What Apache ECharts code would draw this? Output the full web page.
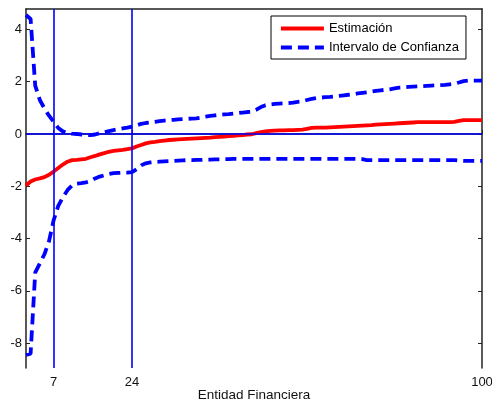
<!DOCTYPE html>
<html>
<head>
<meta charset="utf-8">
<script src="https://cdn.jsdelivr.net/npm/echarts@6/dist/echarts.min.js"></script>
<style>
  html, body { margin: 0; padding: 0; background: #fff; }
  #chart { width: 492px; height: 407px; }
</style>
</head>
<body>
<div id="chart"></div>
<script>
// estimación por entidad financiera (1..100)
const estimacion = [
  -1.97, -1.82, -1.74, -1.7, -1.65, -1.56, -1.44, -1.3, -1.17, -1.06,
  -1.0, -0.99, -0.97, -0.95, -0.89, -0.84, -0.78, -0.73, -0.68, -0.65,
  -0.63, -0.61, -0.58, -0.55, -0.48, -0.42, -0.36, -0.32, -0.3, -0.27,
  -0.25, -0.23, -0.22, -0.21, -0.2, -0.19, -0.18, -0.17, -0.16, -0.15,
  -0.14, -0.12, -0.11, -0.1, -0.08, -0.07, -0.05, -0.04, -0.02, -0.01,
  0.03, 0.07, 0.1, 0.12, 0.13, 0.14, 0.14, 0.15, 0.15, 0.16,
  0.17, 0.2, 0.23, 0.24, 0.24, 0.24, 0.25, 0.26, 0.27, 0.28,
  0.29, 0.3, 0.31, 0.32, 0.33, 0.34, 0.36, 0.37, 0.38, 0.39,
  0.4, 0.41, 0.42, 0.43, 0.44, 0.45, 0.45, 0.45, 0.45, 0.45,
  0.45, 0.45, 0.45, 0.46, 0.5, 0.53, 0.53, 0.53, 0.53, 0.53
];
const limiteSuperior = [
  4.55, 4.4, 1.85, 1.3, 0.98, 0.7, 0.47, 0.23, 0.1, 0.04,
  0.01, 0.0, -0.02, -0.04, -0.04, -0.02, 0.03, 0.07, 0.11, 0.15,
  0.18, 0.21, 0.24, 0.28, 0.33, 0.39, 0.42, 0.44, 0.46, 0.49,
  0.51, 0.53, 0.54, 0.56, 0.57, 0.58, 0.59, 0.6, 0.63, 0.66,
  0.69, 0.71, 0.73, 0.75, 0.76, 0.78, 0.8, 0.82, 0.84, 0.85,
  0.93, 1.03, 1.1, 1.13, 1.15, 1.16, 1.17, 1.18, 1.2, 1.23,
  1.25, 1.3, 1.34, 1.37, 1.39, 1.41, 1.42, 1.44, 1.46, 1.48,
  1.5, 1.52, 1.55, 1.57, 1.59, 1.62, 1.65, 1.67, 1.69, 1.71,
  1.74, 1.77, 1.78, 1.8, 1.81, 1.82, 1.83, 1.84, 1.85, 1.86,
  1.87, 1.88, 1.9, 1.92, 1.97, 2.02, 2.04, 2.04, 2.04, 2.04
];
const limiteInferior = [
  -8.45, -8.4, -5.3, -4.95, -4.6, -4.1, -3.3, -2.75, -2.42, -2.15,
  -1.97, -1.9, -1.88, -1.85, -1.8, -1.7, -1.63, -1.58, -1.53, -1.5,
  -1.49, -1.48, -1.48, -1.46, -1.35, -1.2, -1.12, -1.09, -1.07, -1.06,
  -1.05, -1.04, -1.03, -1.02, -1.01, -1.0, -1.0, -0.99, -0.99, -0.98,
  -0.98, -0.97, -0.97, -0.96, -0.96, -0.95, -0.95, -0.95, -0.95, -0.95,
  -0.95, -0.95, -0.95, -0.95, -0.95, -0.95, -0.95, -0.95, -0.95, -0.95,
  -0.95, -0.95, -0.95, -0.95, -0.95, -0.95, -0.95, -0.95, -0.95, -0.95,
  -0.95, -0.95, -0.95, -0.96, -1.0, -1.0, -1.0, -1.0, -1.0, -1.0,
  -1.0, -1.0, -1.0, -1.0, -1.0, -1.0, -1.0, -1.0, -1.0, -1.0,
  -1.0, -1.0, -1.0, -1.0, -1.02, -1.03, -1.03, -1.03, -1.03, -1.03
];
const xTicks = [7, 24, 100];
const yTicks = [-8, -6, -4, -2, 0, 2, 4];
const lineasVerticales = [7, 24];
const lineasHorizontales = [0];

const entidad = estimacion.map((_, i) => i + 1);
const pares = (vals) => vals.map((v, i) => [entidad[i], v]);

const font = 'Liberation Sans, Arial, sans-serif';
const chart = echarts.init(document.getElementById('chart'));

const option = {
  animation: false,
  backgroundColor: '#fff',
  textStyle: { fontFamily: font },
  grid: { left: 26, right: 10, top: 9, bottom: 39, containLabel: false, outerBoundsMode: 'none' },
  legend: {
    orient: 'vertical',
    left: 271,
    top: 16,
    data: ['Estimación', 'Intervalo de Confianza'],
    borderColor: '#000',
    borderWidth: 1,
    padding: [6, 7, 5, 8],
    itemGap: 6,
    itemWidth: 43,
    itemHeight: 14,
    itemStyle: { opacity: 0 },
    lineStyle: { width: 3.8 },
    textStyle: { fontSize: 13, color: '#000', fontFamily: font }
  },
  xAxis: [
    {
      type: 'value',
      min: 1,
      max: 100,
      name: 'Entidad Financiera',
      nameLocation: 'middle',
      nameGap: 20,
      nameMoveOverlap: false,
      nameTextStyle: { fontSize: 13.5, color: '#111' },
      axisLine: { lineStyle: { color: '#222', width: 1.5 } },
      axisTick: { inside: true, length: 4, customValues: xTicks, lineStyle: { color: '#222' } },
      axisLabel: { customValues: xTicks, fontSize: 13, color: '#111', margin: 8 },
      splitLine: { show: false }
    },
    {
      type: 'value',
      position: 'top',
      min: 1,
      max: 100,
      axisLine: { show: true, onZero: false, lineStyle: { color: '#222', width: 1.5 } },
      axisTick: { show: false },
      axisLabel: { show: false },
      splitLine: { show: false }
    }
  ],
  yAxis: [
    {
      type: 'value',
      min: -8.95,
      max: 4.78,
      axisLine: { show: true, onZero: false, lineStyle: { color: '#222', width: 1.5 } },
      axisTick: { inside: true, length: 4, customValues: yTicks, lineStyle: { color: '#222' } },
      axisLabel: { customValues: yTicks, fontSize: 13, color: '#111', margin: 4 },
      splitLine: { show: false }
    },
    {
      type: 'value',
      position: 'right',
      min: -8.95,
      max: 4.78,
      axisLine: { show: true, onZero: false, lineStyle: { color: '#222', width: 1.5 } },
      axisTick: { inside: true, length: 4, customValues: yTicks, lineStyle: { color: '#222' } },
      axisLabel: { show: false },
      splitLine: { show: false }
    }
  ],
  series: [
    {
      name: 'referencias',
      type: 'line',
      data: [],
      z: 1,
      markLine: {
        silent: true,
        symbol: ['none', 'none'],
        label: { show: false },
        lineStyle: { color: '#0000ff', type: 'solid', width: 1.6 },
        data: lineasVerticales.map(v => ({ xAxis: v }))
          .concat(lineasHorizontales.map(v => ({ yAxis: v })))
      }
    },
    {
      name: 'Estimación',
      type: 'line',
      data: pares(estimacion),
      showSymbol: false,
      symbol: 'none',
      z: 3,
      itemStyle: { color: '#ff0000' },
      lineStyle: { color: '#ff0000', width: 3.8 }
    },
    {
      name: 'Intervalo de Confianza',
      type: 'line',
      data: pares(limiteSuperior),
      showSymbol: false,
      symbol: 'none',
      z: 2,
      itemStyle: { color: '#0000ff' },
      lineStyle: { color: '#0000ff', width: 3.8, type: [11, 6] }
    },
    {
      name: 'Intervalo de Confianza',
      type: 'line',
      data: pares(limiteInferior),
      showSymbol: false,
      symbol: 'none',
      z: 2,
      itemStyle: { color: '#0000ff' },
      lineStyle: { color: '#0000ff', width: 3.8, type: [11, 6] }
    }
  ]
};

chart.setOption(option);
</script>
</body>
</html>
